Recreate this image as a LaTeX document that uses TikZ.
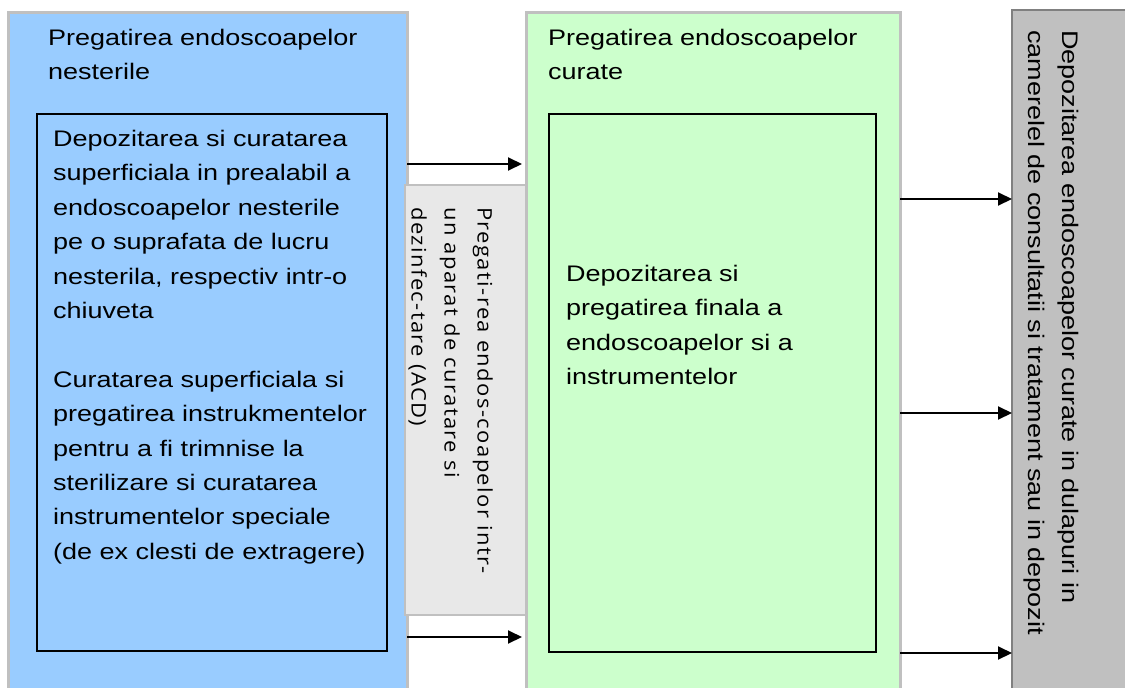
\documentclass[tikz,border=0pt]{standalone}
\usepackage{fontspec}
\setmainfont{Liberation Sans}[FakeStretch=1.2]
\newfontfamily\acdfont{Open Sans}[FakeStretch=1.1, LetterSpace=7]
\usetikzlibrary{arrows.meta}

\definecolor{nestblue}{HTML}{99CCFF}
\definecolor{curgreen}{HTML}{CCFFCC}
\definecolor{acdgray}{HTML}{E8E8E8}
\definecolor{depgray}{HTML}{C0C0C0}
\definecolor{panelline}{HTML}{C0C0C0}
\definecolor{depline}{HTML}{808080}

\begin{document}
\begin{tikzpicture}[x=1pt, y=-1pt,
		panel/.style={draw=panelline, line width=3pt, anchor=north west, inner sep=0, outer sep=0},
		inbox/.style={draw=black, line width=2pt, anchor=north west, inner sep=0, outer sep=0},
		txt/.style={anchor=north west, inner sep=0, align=left, font=\fontsize{22.5}{34.4}\selectfont},
		acdtxt/.style={anchor=north west, inner sep=0, align=left, rotate=-90, font=\acdfont\fontsize{20}{33}\selectfont},
		arr/.style={-{Triangle[length=14pt, width=13pt]}, line width=2pt}]
		\useasboundingbox (0,0) rectangle (1125,688);
		\clip (0,0) rectangle (1125,688);
		
		% Columns
		\node[panel, fill=nestblue, minimum width=399, minimum height=700] (nest) at (8,12) {};
		\node[panel, fill=curgreen, minimum width=374, minimum height=700] (cur) at (526,12) {};
		\node[panel, fill=acdgray, line width=2pt, minimum width=121, minimum height=430] (acd) at (405,185) {};
		\node[panel, fill=depgray, draw=depline, line width=1.5pt, minimum width=130, minimum height=700] (dep) at (1012,10) {};
		
		% Inner boxes
		\node[inbox, minimum width=350, minimum height=537] (nestIn) at (37,114) {};
		\node[inbox, minimum width=327, minimum height=538] (curIn) at (549,114) {};
		
		% Titles
		\node[txt] (nestT) at (48,29) {Pregatirea endoscoapelor\\nesterile};
		\node[txt] (curT) at (548,29) {Pregatirea endoscoapelor\\curate};
		
		% Box texts
		\node[txt] (nestX) at (53,130) {Depozitarea si curatarea\\superficiala in prealabil a\\endoscoapelor nesterile\\pe o suprafata de lucru\\nesterila, respectiv intr-o\\chiuveta\\[34.4pt]Curatarea superficiala si\\pregatirea instrukmentelor\\pentru a fi trimnise la\\sterilizare si curatarea\\instrumentelor speciale\\(de ex clesti de extragere)};
		\node[txt] (curX) at (566,265) {Depozitarea si\\pregatirea finala a\\endoscoapelor si a\\instrumentelor};
		\node[acdtxt] (acdX) at (493,207) {Pregati-rea endos-coapelor intr-\\un aparat de curatare si\\dezinfec-tare (ACD)};
		\node[txt, rotate=-90] (depX) at (1079,30) {Depozitarea endoscoapelor curate in dulapuri in\\camerelel de consultatii si tratament sau in depozit};
		
		% Arrows
		\draw[arr, shorten >=4pt] (nest.east |- 0,164) -- (cur.west |- 0,164);
		\draw[arr, shorten >=4pt] (nest.east |- 0,637) -- (cur.west |- 0,637);
		\draw[arr] (cur.east |- 0,199) -- (dep.west |- 0,199);
		\draw[arr] (cur.east |- 0,413) -- (dep.west |- 0,413);
		\draw[arr] (cur.east |- 0,653) -- (dep.west |- 0,653);
	\end{tikzpicture}
\end{document}
